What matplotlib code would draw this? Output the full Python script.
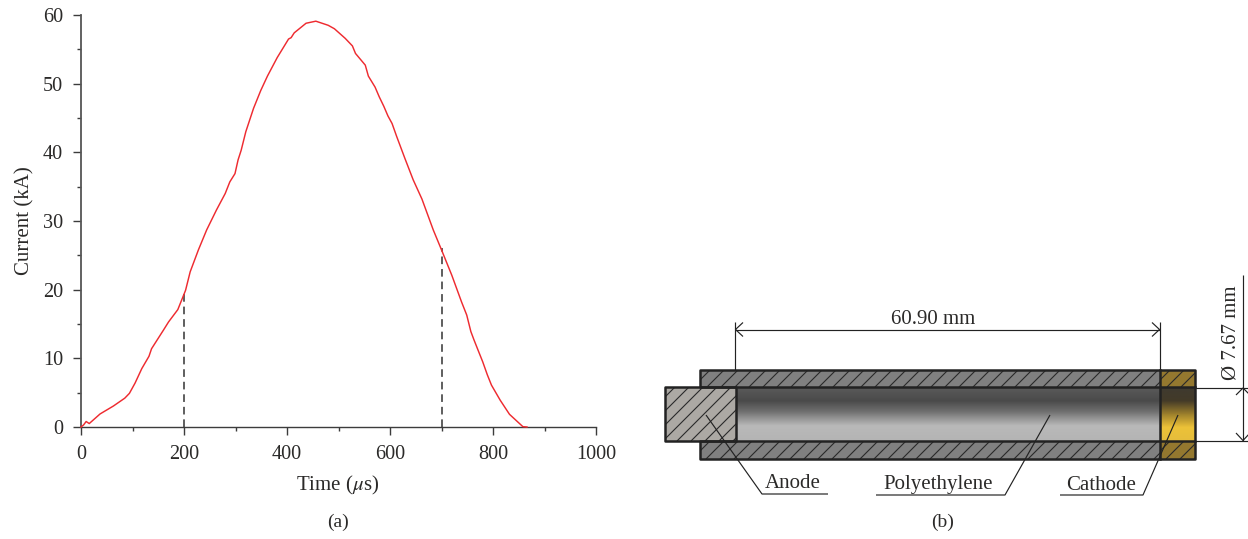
import numpy as np
import matplotlib
matplotlib.use("Agg")
import matplotlib.pyplot as plt
from matplotlib.collections import LineCollection
from matplotlib.patches import Rectangle
from matplotlib.colors import LinearSegmentedColormap

plt.rcParams['font.family'] = ['Liberation Serif', 'DejaVu Serif']
plt.rcParams['mathtext.fontset'] = 'stix'

time_us = [0, 5, 10, 16, 22, 37, 63, 85, 94, 105, 118, 132, 137, 160, 170, 188, 203, 212, 223, 228, 244, 263,
           280, 289, 299, 305, 311, 320, 335, 349, 362, 381, 403, 408, 414, 437, 456, 480, 492, 513, 527,
           533, 552, 558, 571, 579, 588, 596, 604, 613, 629, 645, 662, 684, 700, 720, 739, 749, 757, 763,
           772, 780, 789, 797, 814, 832, 858, 866]
current_ka = [0, 0.3, 0.8, 0.5, 0.9, 1.9, 3.06, 4.2, 4.9, 6.4, 8.5, 10.3, 11.4, 14.1, 15.3, 17.1, 19.9, 22.6,
              24.8, 25.8, 28.7, 31.6, 34, 35.7, 36.9, 38.9, 40.3, 43, 46.4, 49, 51.1, 53.8, 56.5, 56.7, 57.4,
              58.8, 59.1, 58.5, 58, 56.6, 55.5, 54.4, 52.7, 51.1, 49.5, 48.1, 46.7, 45.3, 44.2, 42.3, 39.1,
              36, 33.2, 28.7, 25.8, 22.1, 18.2, 16.3, 13.9, 12.7, 11, 9.5, 7.6, 6.1, 3.9, 1.85, 0.05, 0]
dashed_x = [200, 700]
dashed_top = [19.5, 26]
x_major = [0, 200, 400, 600, 800, 1000]
x_minor = [100, 300, 500, 700, 900]
y_major = [0, 10, 20, 30, 40, 50, 60]
y_minor = [5, 15, 25, 35, 45, 55]

W, H = 1248, 539
INK = '#2b2a29'
AXC = '#3c3c3c'
FS = 15
fig = plt.figure(figsize=(W / 100, H / 100), dpi=100)

# panel (a)
ax = fig.add_axes([81 / W, 1 - 427 / H, 515 / W, 412 / H])
ax.plot(time_us, current_ka, color='#ee2b30', lw=1.05, clip_on=False, zorder=3)
for x, t in zip(dashed_x, dashed_top):
    ax.plot([x, x], [0, t], color='#333333', lw=1.1, dashes=(5, 3.2), zorder=2)
ax.set_xlim(0, 1000)
ax.set_ylim(0, 60)
ax.set_xticks(x_major)
ax.set_xticks(x_minor, minor=True)
ax.set_yticks(y_major)
ax.set_yticks(y_minor, minor=True)
ax.tick_params(which='major', length=5.8, width=1.0, color=AXC, labelsize=14.6, labelcolor=INK)
ax.tick_params(axis='x', which='major', pad=7)
ax.tick_params(axis='y', which='major', pad=7)
ax.tick_params(which='minor', length=2.8, width=1.0, color=AXC)
for s in ('top', 'right'):
    ax.spines[s].set_visible(False)
ax.spines['left'].set_linewidth(1.3)
ax.spines['bottom'].set_linewidth(1.0)
ax.spines['left'].set_color('#555555')
ax.spines['bottom'].set_color(AXC)
ax.patch.set_alpha(0)

# overlay in image pixels
ov = fig.add_axes([0, 0, 1, 1], zorder=5)
ov.set_xlim(0, W)
ov.set_ylim(H, 0)
ov.axis('off')


def T(x, y, s, **kw):
    kw.setdefault('fontsize', FS)
    ov.text(x, y, s, ha='center', va='center', color=INK, **kw)


T(338, 485, r'Time ($\mu$s)')
T(25, 221, 'Current (kA)', rotation=90)
T(338, 522, '(a)', fontsize=14)
T(943, 522, '(b)', fontsize=14)
T(793, 483, 'Anode')
T(938, 484, 'Polyethylene')
T(1101, 485, 'Cathode')
T(933, 319, '60.90 mm')
T(1231, 333, 'Ø 7.67 mm', rotation=90)

SL, SR, CL = 700, 1195, 1160
T1, T2, B1, B2 = 370, 387, 441, 459
AL, AR = 665, 736


def hatched(x0, y0, x1, y1, face, step, z=1):
    r = Rectangle((x0, y0), x1 - x0, y1 - y0, fc=face, ec='none', zorder=z)
    ov.add_patch(r)
    h = y1 - y0
    segs = [[(x, y1), (x + h, y0)] for x in np.arange(x0 - h - 4, x1 + step, step)]
    lc = LineCollection(segs, colors='#2a2a2a', linewidths=0.8, zorder=z + 0.1)
    ov.add_collection(lc)
    lc.set_clip_path(r)


hatched(SL, T1, CL, T2, '#808080', 14)
hatched(SL, B1, CL, B2, '#808080', 14)
hatched(CL, T1, SR, T2, '#94782f', 14)
hatched(CL, B1, SR, B2, '#94782f', 14)
hatched(AL, T2, AR, B1, '#aca9a4', 14, z=1.5)

gray = LinearSegmentedColormap.from_list('g', [(0, '#5a5a5a'), (0.25, '#4a4a4a'), (0.45, '#6f6f6f'),
                                               (0.72, '#b9b9b9'), (1, '#b4b4b4')])
gold = LinearSegmentedColormap.from_list('y', [(0, '#3f3a30'), (0.25, '#433a28'), (0.5, '#9c7f2c'),
                                               (0.75, '#ecc238'), (1, '#e6bd3c')])
grad = np.linspace(0, 1, 64).reshape(-1, 1)
ov.imshow(grad, cmap=gray, extent=(AR, CL, B1, T2), aspect='auto', zorder=1)
ov.imshow(grad, cmap=gold, extent=(CL, SR, B1, T2), aspect='auto', zorder=1)
ov.set_xlim(0, W)
ov.set_ylim(H, 0)

for (x0, y0, x1, y1) in [(SL, T1, SR, T2), (SL, B1, SR, B2), (AL, T2, AR, B1)]:
    ov.add_patch(Rectangle((x0, y0), x1 - x0, y1 - y0, fc='none', ec='#222222', lw=1.8, zorder=3, joinstyle='round'))
ov.plot([SR, SR], [T2, B1], color='#222222', lw=1.8, zorder=3)
ov.plot([CL, CL], [T1, B2], color='#222222', lw=1.8, zorder=3)

thin = dict(color='#222222', lw=0.85, zorder=4, solid_capstyle='butt')
leaders = [[(706, 415), (762, 494), (828, 494)],
           [(1050, 415), (1005, 495), (876, 495)],
           [(1178, 415), (1143, 495), (1060, 495)]]
for p in leaders:
    xs, ys = zip(*p)
    ov.plot(xs, ys, **thin)

ov.plot([735, 735], [322, 370], **thin)
ov.plot([1160, 1160], [322, 370], **thin)
ov.plot([735, 1160], [329.5, 329.5], **thin)
ov.plot([743, 735.5, 743], [322.5, 329.5, 336.5], **thin)
ov.plot([1152, 1159.5, 1152], [322.5, 329.5, 336.5], **thin)
ov.plot([1195, W], [387.5, 387.5], **thin)
ov.plot([1195, W], [441, 441], **thin)
ov.plot([1243, 1243], [275, 441], **thin)
ov.plot([1236, 1243, 1250], [395, 388, 395], **thin)
ov.plot([1236, 1243, 1250], [433, 440.5, 433], **thin)

fig.savefig('out.png', dpi=100, facecolor='white')
